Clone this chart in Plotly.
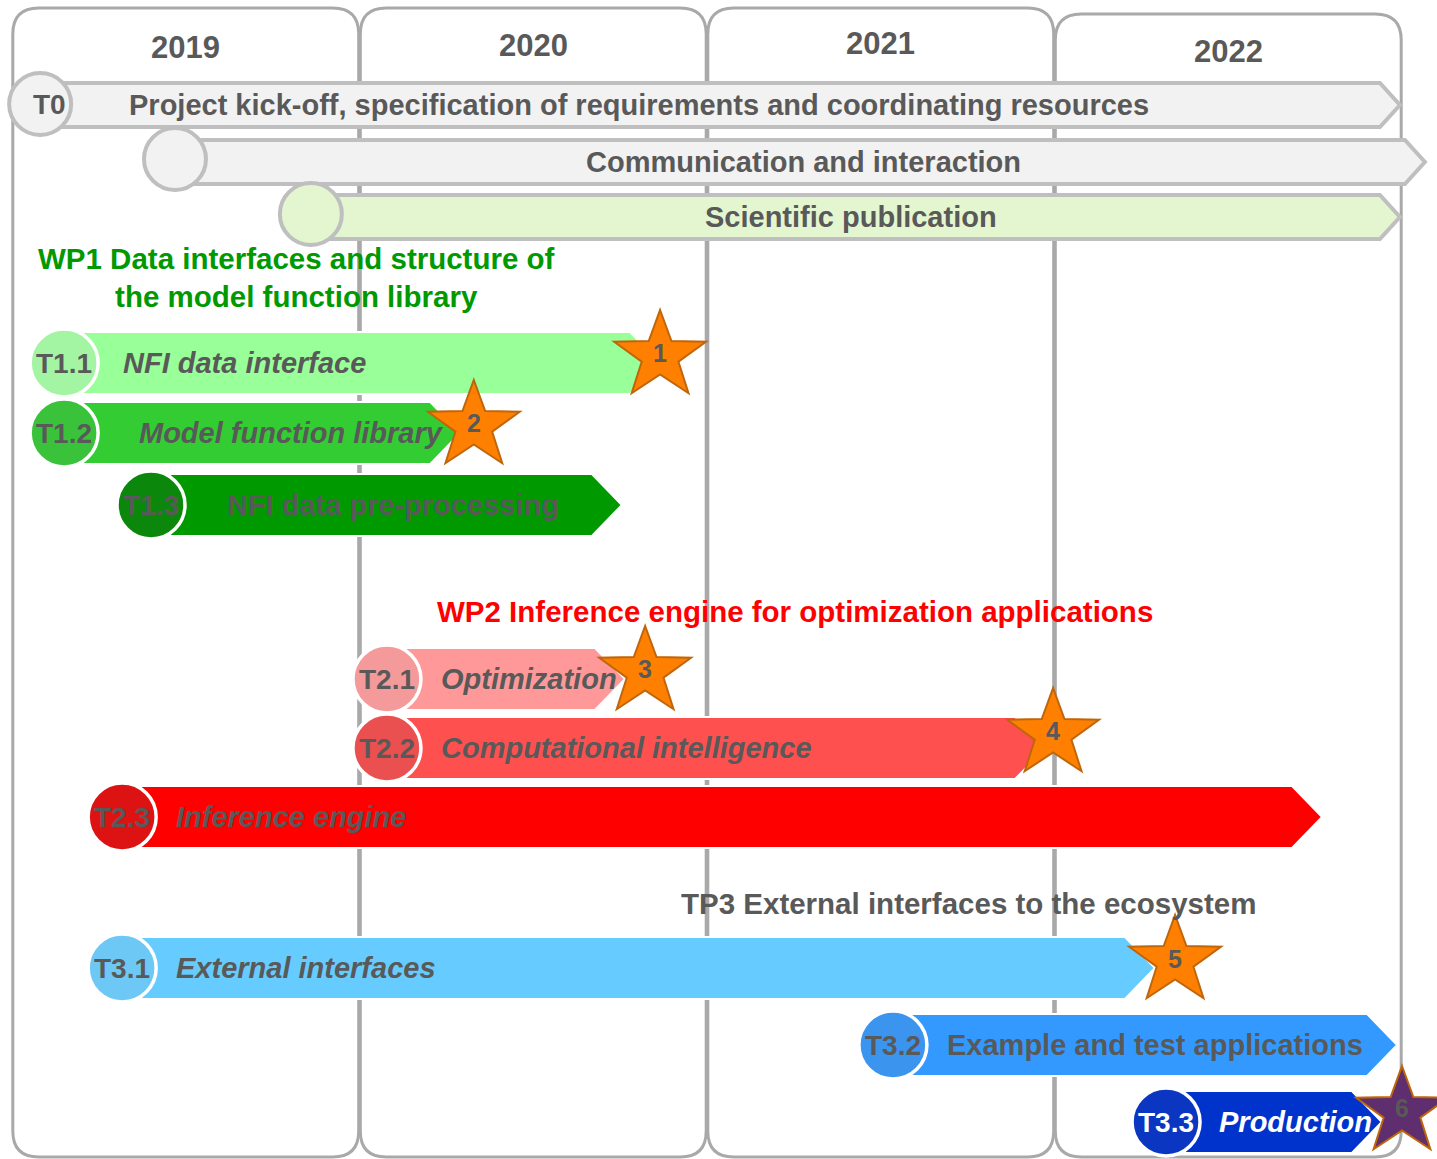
import math
import plotly.graph_objects as go

# ---------------- data ----------------
years = ["2019", "2020", "2021", "2022"]
year_start = [2019, 2020, 2021, 2022]

band_ids = ["T0", "", ""]
band_names = ["Project kick-off, specification of requirements and coordinating resources",
              "Communication and interaction",
              "Scientific publication"]
band_start = [2019.081, 2019.469, 2019.860]
band_end = [2022.994, 2023.066, 2022.994]

wp_titles = ["WP1 Data interfaces and structure of<br>the model function library",
             "WP2 Inference engine for optimization applications",
             "TP3 External interfaces to the ecosystem"]

task_ids = ["T1.1", "T1.2", "T1.3", "T2.1", "T2.2", "T2.3", "T3.1", "T3.2", "T3.3"]
task_names = ["NFI data interface", "Model function library", "NFI data pre-processing",
              "Optimization", "Computational intelligence", "Inference engine",
              "External interfaces", "Example and test applications", "Production"]
task_start = [2019.150, 2019.150, 2019.400, 2020.079, 2020.079, 2019.317, 2019.317, 2021.535, 2022.321]
task_end = [2020.865, 2020.290, 2020.755, 2020.764, 2021.973, 2022.770, 2022.289, 2022.986, 2022.942]

milestones = ["1", "2", "3", "4", "5", "6"]
milestone_year = [2020.865, 2020.329, 2020.822, 2021.996, 2022.347, 2023.000]

# ---------------- layout / style ----------------
W, H = 1437, 1159
PXY = 347.5            # pixels per year
X_LEFT_PX = 12         # pixel position of 2019.0
x_range = [2019 - X_LEFT_PX / PXY, 2019 + (W - X_LEFT_PX) / PXY]


def dx(px):
    return px / PXY


FONT = "Liberation Sans Narrow, Arial Narrow, Liberation Sans, Arial, sans-serif"
GRAY_TXT = "#595959"
FRAME = "#A9A9A9"

year_label_y = [47, 45, 43, 51]
col_top = [8, 8, 8, 14]
col_bottom = 1157
col_r = 26

band_y = [105, 162, 217]
band_circle_y = [104, 159, 214]
band_half = 22
band_fill = ["#F2F2F2", "#F2F2F2", "#E3F6D0"]
band_text_x = [2019 + (639 - 12) / PXY, 2019 + (803 - 12) / PXY, 2019 + (851 - 12) / PXY]

wp_pos = [(2019 + (296 - 12) / PXY, 277), (2019 + (795 - 12) / PXY, 611), (2019 + (968 - 12) / PXY, 903)]
wp_colors = ["#009900", "#FF0000", GRAY_TXT]

task_y = [363, 433, 505, 679, 748, 817, 968, 1045, 1122]
task_half = 31
name_offset = [57, 73, 74, 52, 52, 52, 52, 52, 51]
bar_colors = ["#99FF99", "#33CC33", "#009900", "#FF9999", "#FF5050", "#FF0000", "#66CCFF", "#3399FF", "#0033CC"]
circle_colors = ["#A3F5A3", "#3BC23B", "#0B880B", "#F59A9A", "#EA5050", "#DD1212", "#6DC8F5", "#3B94EE", "#0B36C2"]
text_colors = [GRAY_TXT] * 8 + ["#FFFFFF"]
italic = [True, True, False, True, True, True, True, False, True]

star_y = [356, 426, 672, 734, 961, 1112]
star_label_y = [353, 423, 669, 731, 959, 1108]
star_fill = ["#FF8000"] * 5 + ["#5E2E6E"]
star_R = 46

shapes = []
annotations = []

# column frames
for i, ys in enumerate(year_start):
    x0 = ys + dx(0.8)
    x1 = ys + 1 - dx(0.8)
    t, b = col_top[i], col_bottom
    rx, ry = dx(col_r), col_r
    path = (f"M {x0 + rx},{t} L {x1 - rx},{t} Q {x1},{t} {x1},{t + ry} "
            f"L {x1},{b - ry} Q {x1},{b} {x1 - rx},{b} L {x0 + rx},{b} "
            f"Q {x0},{b} {x0},{b - ry} L {x0},{t + ry} Q {x0},{t} {x0 + rx},{t} Z")
    shapes.append(dict(type="path", path=path, xref="x", yref="y",
                       line=dict(color=FRAME, width=3), fillcolor="rgba(0,0,0,0)", layer="above"))
    annotations.append(dict(x=ys + 0.5, y=year_label_y[i], text=years[i], showarrow=False,
                            xref="x", yref="y", xanchor="center", yanchor="middle",
                            font=dict(family=FONT, size=31, color=GRAY_TXT, weight="bold")))

# top bands
for i in range(3):
    s, e, yc = band_start[i], band_end[i], band_y[i]
    t, b = yc - band_half, yc + band_half
    c = dx(20)
    path = f"M {s},{t} L {e - c},{t} L {e},{yc} L {e - c},{b} L {s},{b} Z"
    shapes.append(dict(type="path", path=path, xref="x", yref="y",
                       line=dict(color="#BFBFBF", width=4), fillcolor=band_fill[i], layer="above"))
    cy = band_circle_y[i]
    shapes.append(dict(type="circle", xref="x", yref="y", x0=s - dx(31), x1=s + dx(31),
                       y0=cy - 31, y1=cy + 31, line=dict(color="#BFBFBF", width=4),
                       fillcolor=band_fill[i], layer="above"))
    if band_ids[i]:
        annotations.append(dict(x=s + dx(9), y=cy, text=band_ids[i], showarrow=False,
                                xref="x", yref="y", xanchor="center", yanchor="middle",
                                font=dict(family=FONT, size=28, color=GRAY_TXT, weight="bold")))
    annotations.append(dict(x=band_text_x[i], y=yc, text=band_names[i], showarrow=False,
                            xref="x", yref="y", xanchor="center", yanchor="middle",
                            font=dict(family=FONT, size=29, color=GRAY_TXT, weight="bold")))

# work package titles
for i, ttl in enumerate(wp_titles):
    annotations.append(dict(x=wp_pos[i][0], y=wp_pos[i][1], text=ttl, showarrow=False,
                            xref="x", yref="y", xanchor="center", yanchor="middle", align="center",
                            font=dict(family=FONT, size=29.5, color=wp_colors[i], weight="bold")))

# tasks
for i in range(len(task_ids)):
    s, e, yc = task_start[i], task_end[i], task_y[i]
    t, b = yc - task_half, yc + task_half
    c = dx(30)
    path = f"M {s},{t} L {e - c},{t} L {e},{yc} L {e - c},{b} L {s},{b} Z"
    shapes.append(dict(type="path", path=path, xref="x", yref="y",
                       line=dict(color="#FFFFFF", width=2), fillcolor=bar_colors[i], layer="above"))
    shapes.append(dict(type="circle", xref="x", yref="y", x0=s - dx(34), x1=s + dx(34),
                       y0=yc - 34, y1=yc + 34, line=dict(color="#FFFFFF", width=3.5),
                       fillcolor=circle_colors[i], layer="above"))
    annotations.append(dict(x=s, y=yc, text=task_ids[i], showarrow=False,
                            xref="x", yref="y", xanchor="center", yanchor="middle",
                            font=dict(family=FONT, size=28, color=text_colors[i], weight="bold")))
    annotations.append(dict(x=s + dx(name_offset[i]), y=yc, text=task_names[i], showarrow=False,
                            xref="x", yref="y", xanchor="left", yanchor="middle",
                            font=dict(family=FONT, size=29, color=text_colors[i], weight="bold",
                                      style="italic" if italic[i] else "normal")))

# milestone stars
for i, m in enumerate(milestones):
    cx, cy = milestone_year[i], star_y[i]
    pts = []
    for k in range(10):
        ang = -math.pi / 2 + k * math.pi / 5
        r = star_R if k % 2 == 0 else star_R * 0.40
        pts.append((cx + dx(r * math.cos(ang) * 1.05), cy + r * math.sin(ang)))
    path = "M " + " L ".join(f"{px},{py}" for px, py in pts) + " Z"
    shapes.append(dict(type="path", path=path, xref="x", yref="y",
                       line=dict(color="#C0650A", width=2), fillcolor=star_fill[i], layer="above"))
    annotations.append(dict(x=cx, y=star_label_y[i], text=m, showarrow=False,
                            xref="x", yref="y", xanchor="center", yanchor="middle",
                            font=dict(family=FONT, size=25, color=GRAY_TXT, weight="bold")))

fig = go.Figure()
fig.add_trace(go.Scatter(x=[x_range[0]], y=[0], mode="markers", marker=dict(opacity=0),
                         hoverinfo="skip", showlegend=False))
fig.update_layout(
    width=W, height=H, margin=dict(l=0, r=0, t=0, b=0),
    paper_bgcolor="white", plot_bgcolor="white", showlegend=False,
    xaxis=dict(range=x_range, visible=False, fixedrange=True),
    yaxis=dict(range=[H, 0], visible=False, fixedrange=True),
    shapes=shapes, annotations=annotations,
)
fig.write_html("out.html", config={"displayModeBar": False},
               post_script="document.body.style.margin='0';document.body.style.overflow='hidden';")
